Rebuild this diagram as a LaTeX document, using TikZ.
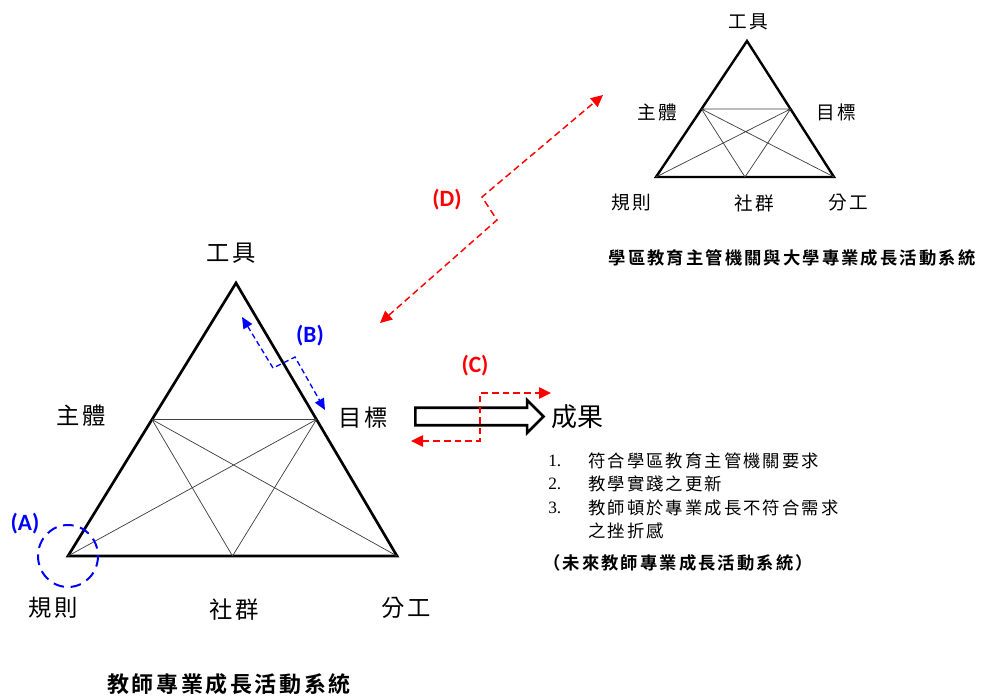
\documentclass[tikz,border=0pt]{standalone}
\usepackage{fontspec}
\setmainfont{Liberation Serif}
\newfontfamily\cjk[LetterSpace=12,BoldFont={* Bold}]{Noto Sans CJK TC}
\newfontfamily\cjktight{Noto Sans CJK TC}
\newfontfamily\tagfont{Carlito}
\usetikzlibrary{arrows.meta,positioning,calc,shapes.arrows}

\begin{document}
\begin{tikzpicture}[
  x=0.75pt, y=-0.75pt,
  tri/.style={line width=2pt, line join=miter},
  innerline/.style={line width=0.55pt, black!75},
  biglbl/.style={font=\cjk\fontsize{17.5}{19}\selectfont, inner sep=0pt},
  smalllbl/.style={font=\cjk\fontsize{14}{16}\selectfont, inner sep=0pt},
  itemtxt/.style={font=\cjk\fontsize{13}{15}\selectfont, inner sep=0pt, anchor=west},
  itemnum/.style={font=\fontsize{13}{15}\selectfont, inner sep=0pt, anchor=west},
  tagred/.style={font=\tagfont\bfseries\fontsize{17.5}{19}\selectfont, text=red, inner sep=0pt},
  tagblue/.style={font=\tagfont\bfseries\fontsize{17.5}{19}\selectfont, text=blue, inner sep=0pt},
  reddash/.style={red, line width=1.1pt, dash pattern=on 5pt off 3pt, {Triangle[length=9pt,width=8.5pt]}-{Triangle[length=9pt,width=8.5pt]}},
  bluedash/.style={blue, line width=1pt, dash pattern=on 4pt off 2.5pt, {Triangle[length=8.5pt,width=7.5pt]}-{Triangle[length=8.5pt,width=7.5pt]}},
  bluering/.style={blue, line width=1.5pt, dash pattern=on 8pt off 5pt}
]
\useasboundingbox (0,0) rectangle (981,696);

% big activity system
\coordinate (T) at (236,283);
\coordinate (L) at (68,556);
\coordinate (R) at (397,556);
\coordinate (ML) at ($(T)!0.5!(L)$);
\coordinate (MR) at ($(T)!0.5!(R)$);
\coordinate (MB) at ($(L)!0.5!(R)$);
\draw[tri] (T) -- (L) -- (R) -- cycle;
\draw[innerline] (ML) -- (MR) (ML) -- (R) (ML) -- (MB) (MR) -- (L) (MR) -- (MB);

\node[biglbl] (tool) at (231,253) {工具};
\node[biglbl] (subj) at (81,416) {主體};
\node[biglbl] (goal) at (363,418) {目標};
\node[biglbl] (rule) at (53,608) {規則};
\node[biglbl] (comm) at (234,610) {社群};
\node[biglbl] (div) at (406,608) {分工};
\node[font=\cjk\bfseries\fontsize{16.5}{18}\selectfont, inner sep=0pt] (bigtitle) at (229,684) {教師專業成長活動系統};

% small activity system
\coordinate (t) at (747,41);
\coordinate (l) at (656,177);
\coordinate (r) at (834,177);
\coordinate (ml) at ($(t)!0.5!(l)$);
\coordinate (mr) at ($(t)!0.5!(r)$);
\coordinate (mb) at ($(l)!0.5!(r)$);
\draw[tri, line width=1.8pt] (t) -- (l) -- (r) -- cycle;
\draw[innerline] (ml) -- (mr) (ml) -- (r) (ml) -- (mb) (mr) -- (l) (mr) -- (mb);

\node[smalllbl] (stool) at (748,22) {工具};
\node[smalllbl] (ssubj) at (657,112) {主體};
\node[smalllbl] (sgoal) at (836,112) {目標};
\node[smalllbl] (srule) at (631,203) {規則};
\node[smalllbl] (scomm) at (754,203) {社群};
\node[smalllbl] (sdiv) at (848,203) {分工};
\node[font=\cjk\bfseries\fontsize{13}{15}\selectfont] (smalltitle) at (792,258) {學區教育主管機關與大學專業成長活動系統};

% outcome
\node[single arrow, draw, line width=2pt, inner sep=0pt, inner ysep=5.6pt,
      minimum height=96pt, single arrow head extend=5.6pt] (out) at (475,416.5) {};
\node[font=\cjktight\fontsize{19.5}{21}\selectfont, inner sep=0pt] (res) at (577,417) {成果};
\node[itemnum] (n1) at (548,461) {1.};
\node[itemtxt] (i1) at (588,461) {符合學區教育主管機關要求};
\node[itemnum] (n2) at (548,484) {2.};
\node[itemtxt] (i2) at (588,484) {教學實踐之更新};
\node[itemnum] (n3) at (548,508) {3.};
\node[itemtxt] (i3) at (588,508) {教師頓於專業成長不符合需求};
\node[itemtxt] (i3b) at (588,531) {之挫折感};
\node[itemtxt, font=\cjk\bfseries\fontsize{13}{15}\selectfont] (future) at (543,563) {（未來教師專業成長活動系統）};

% (A)
\draw[bluering] (L) ellipse (30 and 31);
\node[tagblue] (tagA) at (25,524) {(A)};

% (B)
\coordinate (b1) at (242,317);
\coordinate (b2) at (273,368);
\coordinate (b3) at (295,357);
\coordinate (b4) at (325,410);
\draw[bluedash] (b1) -- (b2) -- (b3) -- (b4);
\node[tagblue] (tagB) at (310,336) {(B)};

% (C)
\coordinate (c1) at (411,441);
\coordinate (c2) at (480,441);
\coordinate (c3) at (480,393);
\coordinate (c4) at (551,393);
\draw[reddash] (c1) -- (c2) -- (c3) -- (c4);
\node[tagred] (tagC) at (475,366) {(C)};

% (D)
\coordinate (d1) at (380,323);
\coordinate (d2) at (497,220);
\coordinate (d3) at (482,197);
\coordinate (d4) at (603,95);
\draw[reddash] (d1) -- (d2) -- (d3) -- (d4);
\node[tagred] (tagD) at (447,200) {(D)};

\end{tikzpicture}
\end{document}
